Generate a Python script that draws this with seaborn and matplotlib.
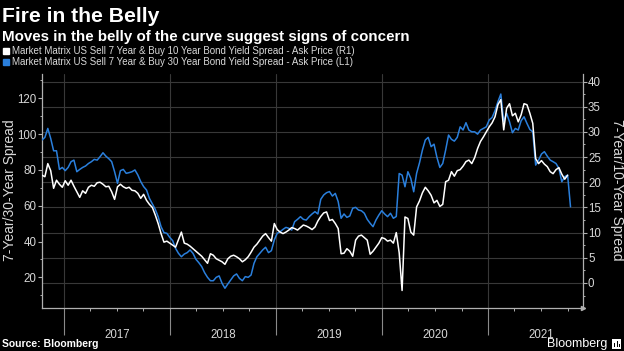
import numpy as np
import pandas as pd
import matplotlib
matplotlib.use("Agg")
import matplotlib.pyplot as plt
import matplotlib.dates as mdates
import matplotlib.transforms as mtrans
from matplotlib.ticker import MultipleLocator, NullFormatter, FixedLocator
from matplotlib.lines import Line2D
from matplotlib.patches import Rectangle
import seaborn as sns

# ---------------- data ----------------
TITLE = "Fire in the Belly"
SUBTITLE = "Moves in the belly of the curve suggest signs of concern"
LABEL_7_10 = "Market Matrix US Sell 7 Year & Buy 10 Year Bond Yield Spread - Ask Price (R1)"
LABEL_7_30 = "Market Matrix US Sell 7 Year & Buy 30 Year Bond Yield Spread - Ask Price (L1)"
LEFT_YLABEL = "7-Year/30-Year Spread"
RIGHT_YLABEL = "7-Year/10-Year Spread"
SOURCE = "Source: Bloomberg"
BRAND = "Bloomberg"
YEARS = [2017, 2018, 2019, 2020, 2021]
LEFT_TICKS = [20, 40, 60, 80, 100, 120]
RIGHT_TICKS = [0, 5, 10, 15, 20, 25, 30, 35, 40]
START_DATE = "2016-10-17"
STEP = "10D"

# 7y/30y spread (left axis, blue)
spread_7_30 = [
    96.7, 98.2, 103.2, 97.6, 90.7, 90.7, 80.3, 81.4, 79.6, 81.4,
    84.6, 85.5, 79.0, 80.3, 81.4, 82.2, 83.6, 84.6, 85.9, 85.5,
    87.4, 89.6, 87.7, 86.3, 84.6, 79.0, 72.5, 79.6, 80.3, 78.1,
    78.5, 79.0, 80.0, 77.2, 73.5, 70.7, 68.8, 64.1, 61.0, 58.0,
    53.9, 48.3, 45.0, 44.6, 42.3, 40.5, 36.2, 33.4, 31.5, 33.0,
    33.8, 35.3, 33.4, 30.1, 28.2, 26.0, 22.6, 20.0, 18.1, 18.1,
    20.0, 20.8, 16.7, 13.9, 16.3, 18.5, 20.8, 21.9, 19.4, 18.1,
    20.4, 20.0, 21.3, 27.8, 31.5, 33.4, 35.3, 36.8, 33.8, 34.9,
    40.9, 44.6, 45.5, 46.8, 47.9, 47.4, 46.4, 51.1, 52.4, 53.9,
    52.4, 52.0, 53.9, 55.4, 56.7, 55.4, 63.6, 66.0, 67.3, 67.9,
    65.4, 66.9, 62.3, 53.0, 55.4, 53.5, 54.3, 58.6, 59.1, 57.6,
    57.2, 55.8, 52.4, 50.2, 48.3, 52.0, 54.8, 57.2, 55.4, 53.9,
    55.8, 53.0, 54.0, 78.0, 77.1, 70.6, 79.0, 75.3, 67.8, 78.1,
    84.0, 91.1, 96.7, 98.2, 93.0, 94.4, 87.0, 81.4, 83.6, 91.1,
    99.5, 97.1, 96.1, 98.2, 104.1, 102.3, 106.4, 102.3, 101.3, 101.3,
    100.0, 102.3, 103.2, 104.1, 107.9, 109.3, 113.1, 118.1, 122.4, 106.9,
    111.6, 106.9, 100.8, 103.2, 102.3, 107.5, 109.7, 106.0, 102.6, 101.3,
    82.7, 85.5, 88.9, 90.2, 87.7, 85.5, 84.6, 83.6, 80.9, 73.4,
    76.2, 77.1, 59.4,
]

# 7y/10y spread (right axis, white)
spread_7_10 = [
    21.4, 21.1, 23.7, 22.3, 18.8, 20.4, 19.6, 19.0, 20.3, 19.4,
    20.4, 19.2, 18.1, 17.0, 18.3, 17.8, 19.0, 19.4, 19.2, 19.9,
    20.0, 19.6, 19.1, 19.2, 18.1, 16.6, 19.1, 19.6, 19.1, 18.8,
    19.0, 18.4, 18.3, 17.8, 16.8, 17.6, 16.4, 15.6, 15.0, 13.5,
    11.8, 9.8, 8.1, 8.3, 7.9, 7.5, 7.1, 8.6, 10.1, 7.9,
    7.7, 7.3, 6.8, 6.3, 5.8, 5.3, 4.6, 3.9, 5.8, 5.5,
    4.8, 4.5, 4.2, 3.7, 4.8, 5.3, 5.5, 5.2, 4.8, 4.2,
    4.6, 5.2, 6.1, 7.1, 7.7, 8.5, 9.3, 9.8, 9.0, 8.3,
    11.8, 10.6, 10.1, 9.8, 10.1, 10.5, 11.0, 10.8, 10.5, 11.0,
    11.5, 11.3, 11.0, 10.6, 11.1, 12.3, 13.2, 13.9, 14.1, 12.4,
    12.6, 11.8, 10.8, 5.8, 5.9, 6.8, 6.3, 5.3, 8.5, 9.3,
    9.5, 9.0, 8.5, 5.7, 6.3, 7.1, 7.9, 9.0, 8.8, 8.3,
    8.5, 7.9, 10.0, 6.0, -1.5, 13.1, 12.8, 10.1, 9.5, 15.1,
    16.3, 17.9, 19.0, 18.3, 17.4, 15.9, 16.4, 15.2, 15.6, 20.1,
    20.4, 22.1, 21.2, 22.3, 22.5, 23.2, 24.1, 24.4, 23.7, 24.9,
    26.7, 28.1, 29.0, 30.0, 31.0, 31.8, 33.0, 35.4, 36.4, 30.4,
    34.7, 35.6, 33.2, 33.7, 32.0, 33.4, 35.6, 35.4, 33.7, 31.7,
    24.7, 23.7, 24.3, 23.6, 23.1, 22.1, 21.7, 22.5, 22.9, 21.6,
    20.6, 21.4,
]

# ---------------- style ----------------
BLUE = "#2a7fdc"
GRID = "#383838"
AXC = "#b0b0b0"
TXT = "#d8d8d8"

sns.set_theme(style="dark", rc={
    "axes.facecolor": "black", "figure.facecolor": "black",
    "axes.edgecolor": AXC, "text.color": "white",
    "xtick.color": AXC, "ytick.color": AXC, "axes.labelcolor": "white",
})
plt.rcParams["font.family"] = ["Liberation Sans", "DejaVu Sans"]

W, H = 624, 351
fig = plt.figure(figsize=(W / 100, H / 100), dpi=100, facecolor="black")
L, R, T, B = 41.7, 583.0, 74.0, 308.3
ax = fig.add_axes([L / W, 1 - B / H, (R - L) / W, (B - T) / H])
ax.set_facecolor("black")
ax2 = ax.twinx()

dates = pd.date_range(START_DATE, periods=len(spread_7_30), freq=STEP)
df_b = pd.DataFrame({"date": dates, "spread": spread_7_30})
df_w = pd.DataFrame({"date": dates[:len(spread_7_10)], "spread": spread_7_10})

sns.lineplot(data=df_b, x="date", y="spread", ax=ax, color=BLUE, lw=1.1, estimator=None, zorder=3)
sns.lineplot(data=df_w, x="date", y="spread", ax=ax2, color="white", lw=1.1, estimator=None, zorder=3)

ax.set_xlim(pd.Timestamp("2016-10-16"), pd.Timestamp("2021-11-23"))
ax.set_ylim(2.7, 133.6)
ax2.set_ylim(-5.04, 41.5)
for a in (ax, ax2):
    a.set_xlabel("")
    a.set_ylabel("")
    a.grid(False)

# horizontal grid at right-axis ticks, drawn under both series
tr = mtrans.blended_transform_factory(ax.transAxes, ax2.transData)
for v in RIGHT_TICKS:
    ax.plot([0, 1], [v, v], transform=tr, color=GRID, lw=0.8, zorder=0.5)
ax.xaxis.grid(True, which="major", color=GRID, lw=0.8)
ax.set_axisbelow(True)

# spines
ax.spines["top"].set_visible(False)
ax2.spines["top"].set_visible(False)
ax.spines["right"].set_visible(False)
for s in ("left", "bottom"):
    ax2.spines[s].set_visible(False)
for sp in (ax.spines["left"], ax.spines["bottom"], ax2.spines["right"]):
    sp.set_color(AXC)
    sp.set_linewidth(0.9)

# y ticks
ax.yaxis.set_major_locator(FixedLocator(LEFT_TICKS))
ax.yaxis.set_minor_locator(MultipleLocator(10))
ax.tick_params(axis="y", which="major", left=True, length=2.6, width=0.8, colors=AXC,
               labelcolor=TXT, labelsize=8.3, pad=1)
ax.tick_params(axis="y", which="minor", left=True, length=1.6, width=0.7, colors=AXC)
ax2.yaxis.set_major_locator(FixedLocator(RIGHT_TICKS))
ax2.yaxis.set_minor_locator(MultipleLocator(2.5))
ax2.tick_params(axis="y", which="major", right=True, length=2.6, width=0.8, colors=AXC,
                labelcolor=TXT, labelsize=8.3, pad=1)
ax2.tick_params(axis="y", which="minor", right=True, length=1.6, width=0.7, colors=AXC)

# x ticks
ax.xaxis.set_major_locator(mdates.YearLocator())
ax.xaxis.set_minor_locator(mdates.MonthLocator(bymonth=[1, 4, 7, 10]))
ax.xaxis.set_major_formatter(NullFormatter())
ax.xaxis.set_minor_formatter(NullFormatter())
ax.tick_params(axis="x", which="major", bottom=True, length=19.5, width=0.8, colors="#8a8a8a")
ax.tick_params(axis="x", which="minor", bottom=True, length=2.2, width=0.7, colors=AXC)

xt = mtrans.blended_transform_factory(ax.transData, fig.transFigure)
for yr in YEARS:
    ax.text(mdates.date2num(pd.Timestamp(yr, 7, 2)), 1 - 334.5 / H, str(yr), transform=xt,
            ha="center", va="center", color=TXT, fontsize=8.3)

# small arrow at the bottom of the right axis
ax2.plot([1], [0], transform=ax2.transAxes, marker=">", ms=3, color=AXC, clip_on=False)

# axis titles
fig.text(10 / W, 1 - 190 / H, LEFT_YLABEL, rotation=90, ha="center", va="center",
         color=TXT, fontsize=10)
fig.text(617 / W, 1 - 190 / H, RIGHT_YLABEL, rotation=270, ha="center", va="center",
         color=TXT, fontsize=10)

# titles
fig.text(2 / W, 1 - 16 / H, TITLE, fontsize=15.2, fontweight="bold", color="white",
         ha="left", va="center")
fig.text(2 / W, 1 - 37 / H, SUBTITLE, fontsize=10.9, fontweight="bold", color="white",
         ha="left", va="center")

# legend
handles = [Line2D([], [], ls="", marker="s", ms=4.6, color="white"),
           Line2D([], [], ls="", marker="s", ms=4.6, color=BLUE)]
fig.legend(handles, [LABEL_7_10, LABEL_7_30], loc="upper left",
           bbox_to_anchor=(3 / W, 1 - 46.5 / H), frameon=False, fontsize=7.0,
           labelcolor=TXT, handlelength=0.7, handletextpad=0.25, labelspacing=0.08,
           borderpad=0, borderaxespad=0)

# footer
fig.text(2 / W, 1 - 344 / H, SOURCE, fontsize=7.5, fontweight="bold", color="white",
         ha="left", va="center")
fig.text(607 / W, 1 - 344 / H, BRAND, fontsize=9, color="white", ha="right", va="center")
fig.patches.append(Rectangle((612 / W, 1 - 349 / H), 9 / W, 10 / H, transform=fig.transFigure,
                             facecolor="white", edgecolor="none"))
for bx, bh in [(614, 4), (616.5, 6), (619, 3)]:
    fig.patches.append(Rectangle((bx / W, 1 - 347 / H), 1.3 / W, bh / H,
                                 transform=fig.transFigure, facecolor="black", edgecolor="none"))

fig.savefig("out.png", dpi=100, facecolor="black")
